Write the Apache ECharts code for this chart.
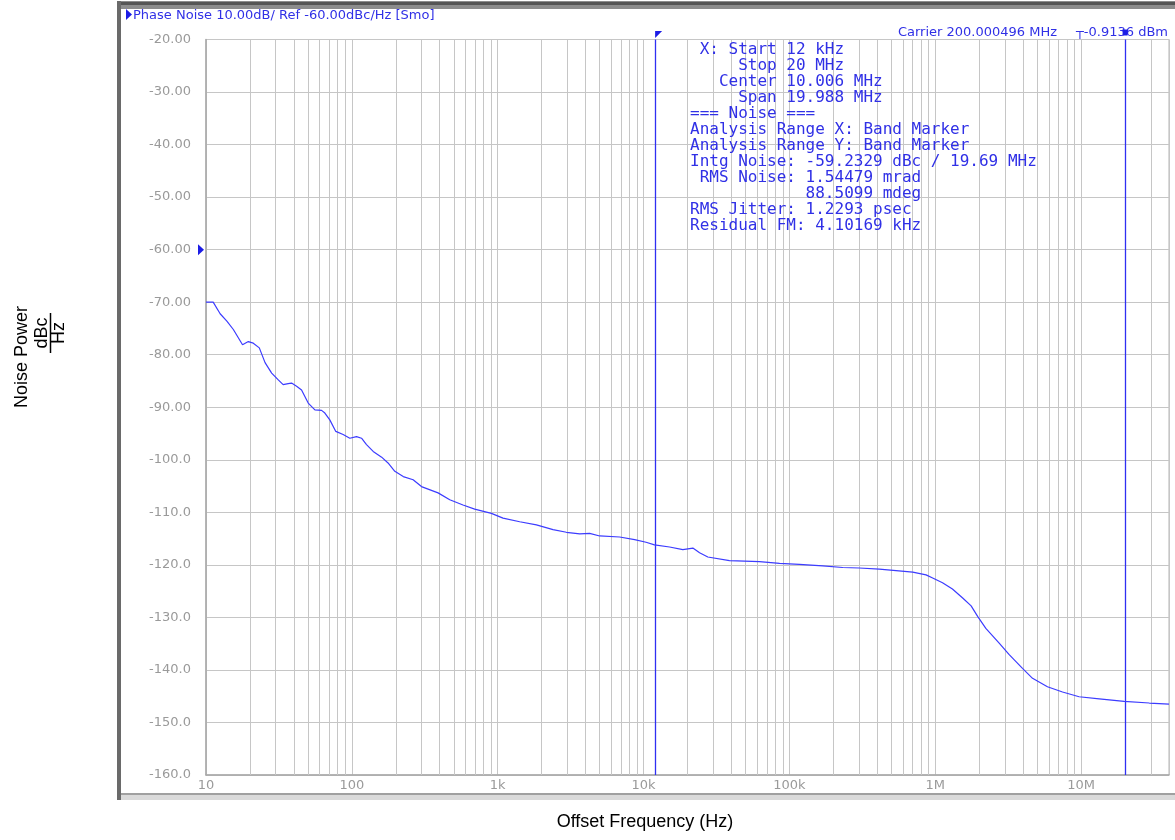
<!DOCTYPE html>
<html>
<head>
<meta charset="utf-8">
<title>Phase Noise</title>
<script src="https://cdn.jsdelivr.net/npm/echarts@6/dist/echarts.min.js"></script>
<style>
  html, body { margin: 0; padding: 0; background: #fff; }
  #phaseNoise { width: 1175px; height: 840px; }
</style>
</head>
<body>
<div id="phaseNoise"></div>
<script>
// offset frequency (Hz) / noise power (dBc/Hz)
const freqHz = [10, 11.2, 12.5, 13.9, 15.4, 17.8, 19.5, 21.1, 23.2, 25.4, 28.2, 31.3, 33.8, 36.6, 38.6,
  41.8, 45.2, 50.2, 55.8, 62, 65.3, 70.6, 77.6, 87.1, 96.8, 107.6, 116.5, 126, 140, 160, 177, 197, 225,
  263, 300, 390, 469, 578, 695, 905, 1087, 1415, 1842, 2394, 2958, 3650, 4270, 5000, 6850, 8680, 10400,
  11880, 15070, 18580, 21770, 24200, 27560, 38800, 62300, 85500, 117000, 169000, 232000, 301000, 413000,
  538000, 700000, 864000, 959000, 1.12e6, 1.31e6, 1.54e6, 1.76e6, 1.95e6, 2.22e6, 2.74e6, 3.21e6, 3.96e6,
  4.64e6, 5.87e6, 7.45e6, 9.68e6, 1.33e7, 1.97e7, 2.93e7, 4e7];
const noiseDbc = [-70.0, -70.0, -72.2, -73.6, -75.2, -78.1, -77.5, -77.8, -78.7, -81.5, -83.5, -84.8, -85.7,
  -85.5, -85.4, -86.0, -86.7, -89.2, -90.5, -90.6, -91.1, -92.4, -94.6, -95.2, -95.9, -95.6, -95.9, -97.1,
  -98.4, -99.5, -100.6, -102.2, -103.2, -103.8, -105.1, -106.3, -107.6, -108.6, -109.4, -110.2, -111.1,
  -111.8, -112.4, -113.3, -113.8, -114.1, -114.0, -114.5, -114.7, -115.2, -115.7, -116.2, -116.6, -117.1,
  -116.8, -117.7, -118.5, -119.2, -119.4, -119.7, -119.9, -120.2, -120.5, -120.6, -120.8, -121.1, -121.4,
  -121.9, -122.5, -123.4, -124.6, -126.3, -127.8, -129.8, -132.1, -134.9, -137.1, -139.7, -141.6, -143.2,
  -144.2, -145.1, -145.5, -146.0, -146.3, -146.5];

// axes
const xMin = 10, xMax = 4e7;
const xDecades = [10, 100, 1e3, 1e4, 1e5, 1e6, 1e7];
const xTickLabels = ["10", "100", "1k", "10k", "100k", "1M", "10M"];
const minorSteps = [2, 3, 4, 5, 6, 7, 8, 9];
const yMin = -160, yMax = -20, yStep = 10;

// band markers (start / stop) and reference level
const bandMarkers = [12000, 2e7];
const refLevel = -60;

const titleText = "Phase Noise 10.00dB/ Ref -60.00dBc/Hz [Smo]";
const carrierText = "Carrier 200.000496 MHz";
const carrierLevel = "\u252c-0.9136 dBm";
const infoLines = [
  " X: Start 12 kHz",
  "     Stop 20 MHz",
  "   Center 10.006 MHz",
  "     Span 19.988 MHz",
  "=== Noise ===",
  "Analysis Range X: Band Marker",
  "Analysis Range Y: Band Marker",
  "Intg Noise: -59.2329 dBc / 19.69 MHz",
  " RMS Noise: 1.54479 mrad",
  "            88.5099 mdeg",
  "RMS Jitter: 1.2293 psec",
  "Residual FM: 4.10169 kHz",
];

const blue = "#3030e6";
const markerBlue = "#2f2ff2";
const gridGray = "#c6c6c6";

let points = freqHz.map((f, i) => [f, noiseDbc[i]]);

// minor log grid lines 20,30..90 of each decade
let minorLines = [];
xDecades.forEach((d) => {
  minorSteps.forEach((m) => {
    if (d * m < xMax) minorLines.push({ xAxis: d * m });
  });
});

let chart = echarts.init(document.getElementById("phaseNoise"));
let option = {
  animation: false,
  backgroundColor: "#fff",
  grid: {
    left: 206,
    right: 6,
    top: 39.5,
    bottom: 65,
    show: true,
    backgroundColor: "#fff",
    borderColor: "#b4b4b4",
    borderWidth: 1,
  },
  xAxis: {
    type: "log",
    logBase: 10,
    min: xMin,
    max: xMax,
    axisLine: { show: true, lineStyle: { color: "#a8a8a8", width: 1.5 } },
    axisTick: { show: false },
    splitLine: { show: true, lineStyle: { color: gridGray, width: 1 } },
    axisLabel: {
      margin: 4,
      color: "#9a9a9a",
      fontSize: 13,
      fontFamily: "DejaVu Sans",
      showMaxLabel: false,
      formatter: function (v) {
        for (let i = 0; i < xDecades.length; i++) {
          if (Math.abs(Math.log10(v) - Math.log10(xDecades[i])) < 1e-6) return xTickLabels[i];
        }
        return "";
      },
    },
  },
  yAxis: {
    type: "value",
    min: yMin,
    max: yMax,
    interval: yStep,
    axisLine: { show: true, lineStyle: { color: "#a8a8a8", width: 1.5 } },
    axisTick: { show: false },
    splitLine: { show: true, lineStyle: { color: gridGray, width: 1 } },
    axisLabel: {
      margin: 15,
      color: "#9a9a9a",
      fontSize: 13,
      fontFamily: "DejaVu Sans",
      formatter: function (v) {
        return v > -100 ? v.toFixed(2) : v.toFixed(1);
      },
    },
  },
  series: [
    {
      // carries the minor vertical grid lines only
      type: "line",
      data: points,
      showSymbol: false,
      silent: true,
      z: 1,
      lineStyle: { opacity: 0 },
      markLine: {
        silent: true,
        symbol: ["none", "none"],
        label: { show: false },
        lineStyle: { color: gridGray, width: 1, type: "solid" },
        emphasis: { disabled: true },
        data: minorLines,
      },
    },
    {
      name: "Phase Noise",
      type: "line",
      data: points,
      showSymbol: false,
      z: 5,
      color: "#3c3cff",
      lineStyle: { color: "#3c3cff", width: 1.2 },
      emphasis: { disabled: true },
      markLine: {
        silent: true,
        symbol: ["none", "none"],
        label: { show: false },
        itemStyle: { color: markerBlue },
        lineStyle: { color: markerBlue, width: 1.3, type: "solid", opacity: 1 },
        emphasis: { disabled: true },
        data: bandMarkers.map((v) => ({ xAxis: v, lineStyle: { color: markerBlue } })),
      },
      markPoint: {
        silent: true,
        label: { show: false },
        itemStyle: { color: "#1c1ce6" },
        data: [
          // start marker flag
          { coord: [bandMarkers[0], yMax], symbol: "path://M0,0 L8,0 L0,8 Z", symbolSize: [7, 7], symbolOffset: [3.5, -5] },
          // stop marker flag
          { coord: [bandMarkers[1], yMax], symbol: "rect", symbolSize: [5, 6], symbolOffset: [0, -7] },
          // reference level arrow
          { coord: [xMin, refLevel], symbol: "path://M0,0 L6,5.5 L0,11 Z", symbolSize: [6, 11], symbolOffset: [-5, 0] },
        ],
      },
    },
  ],
  graphic: [
    // instrument window frame
    { type: "rect", shape: { x: 117, y: 1, width: 1058, height: 8 }, style: { fill: "#8c8c8c" } },
    { type: "rect", shape: { x: 117, y: 2, width: 1058, height: 3 }, style: { fill: "#555" } },
    { type: "rect", shape: { x: 117, y: 1, width: 4, height: 799 }, style: { fill: "#6a6a6a" } },
    { type: "rect", shape: { x: 121, y: 793, width: 1054, height: 2 }, style: { fill: "#a0a0a0" } },
    { type: "rect", shape: { x: 121, y: 795, width: 1054, height: 5 }, style: { fill: "#dadada" } },
    // header
    { type: "polygon", shape: { points: [[126, 9], [132, 14.5], [126, 20]] }, style: { fill: "#1c1ce6" } },
    {
      type: "text", x: 133, y: 16,
      style: { text: titleText, fill: blue, fontSize: 13, fontFamily: "DejaVu Sans", verticalAlign: "middle" },
    },
    {
      type: "text", x: 1057, y: 33,
      style: { text: carrierText, fill: blue, fontSize: 13, fontFamily: "DejaVu Sans", align: "right", verticalAlign: "middle" },
    },
    {
      type: "text", x: 1168, y: 33,
      style: { text: carrierLevel, fill: blue, fontSize: 13, fontFamily: "DejaVu Sans", align: "right", verticalAlign: "middle" },
    },
    // noise analysis readout
    {
      type: "text", x: 690, y: 42, z: 10,
      style: { text: infoLines.join("\n"), fill: blue, fontSize: 16, lineHeight: 16, fontFamily: "DejaVu Sans Mono" },
    },
    // axis titles
    {
      type: "text", x: 645, y: 822,
      style: { text: "Offset Frequency (Hz)", fill: "#000", fontSize: 18, fontFamily: "Liberation Sans", align: "center", verticalAlign: "middle" },
    },
    {
      type: "text", x: 22, y: 357, rotation: Math.PI / 2,
      style: { text: "Noise Power", fill: "#000", fontSize: 18, fontFamily: "Liberation Sans", align: "center", verticalAlign: "middle" },
    },
    {
      type: "text", x: 42, y: 333, rotation: Math.PI / 2,
      style: { text: "dBc", fill: "#000", fontSize: 18, fontFamily: "Liberation Sans", align: "center", verticalAlign: "middle" },
    },
    { type: "line", shape: { x1: 50.5, y1: 313, x2: 50.5, y2: 353 }, style: { stroke: "#000", lineWidth: 1.5 } },
    {
      type: "text", x: 59, y: 333, rotation: Math.PI / 2,
      style: { text: "Hz", fill: "#000", fontSize: 18, fontFamily: "Liberation Sans", align: "center", verticalAlign: "middle" },
    },
  ],
};
chart.setOption(option);
</script>
</body>
</html>
